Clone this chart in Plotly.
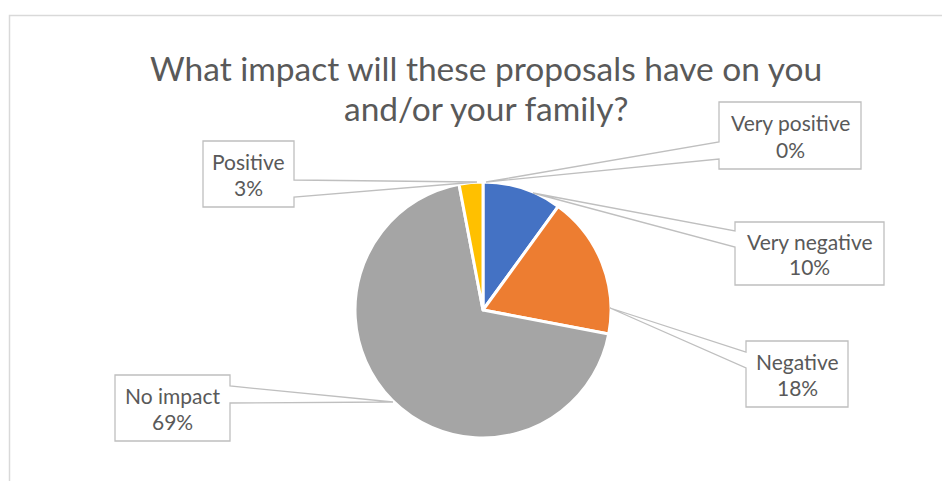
import plotly.graph_objects as go

# Survey responses, in the order drawn clockwise from 12 o'clock
categories = ["Very positive", "Very negative", "Negative", "No impact", "Positive"]
shares = [0, 10, 18, 69, 3]
colors = ["#5B9BD5", "#4472C4", "#ED7D31", "#A5A5A5", "#FFC000"]

W, H = 942, 481
FONT = "Lato"
TEXT_COLOR = "#595959"
LINE_COLOR = "#BFBFBF"

# Pie placement in pixels
cx, cy, r = 483, 310, 128

# Callout boxes: (x0, y0, x1, y1), side the pointer leaves from,
# pointer root y-values on that side, and pointer tip
callouts = {
    "Very positive": ((719, 102, 861, 169), "left", (142, 159), (486, 182)),
    "Very negative": ((735, 222, 884, 285), "left", (231, 247), (533, 193)),
    "Negative": ((746, 341, 848, 407), "left", (352, 368), (610, 308)),
    "No impact": ((115, 375, 230, 441), "right", (386, 403), (393, 402)),
    "Positive": ((203, 141, 294, 207), "right", (180, 197), (477, 182)),
}


def px(x):
    return x / W


def py(y):
    return 1 - y / H


fig = go.Figure(
    go.Pie(
        labels=categories,
        values=shares,
        sort=False,
        direction="clockwise",
        rotation=0,
        marker=dict(colors=colors, line=dict(color="white", width=3)),
        textinfo="none",
        hoverinfo="label+percent",
        showlegend=False,
        domain=dict(x=[px(cx - r), px(cx + r)], y=[py(cy + r), py(cy - r)]),
    )
)

shapes = [
    # outer chart frame
    dict(type="rect", xref="paper", yref="paper",
         x0=px(9.5), x1=px(W + 20), y0=py(H + 20), y1=py(15.5),
         line=dict(color="#D9D9D9", width=1.5), fillcolor="rgba(0,0,0,0)", layer="below"),
]

annotations = []
for name, share in zip(categories, shares):
    (x0, y0, x1, y1), side, (ya, yb), (tx, ty) = callouts[name]
    if side == "left":
        pts = [(x0, y0), (x1, y0), (x1, y1), (x0, y1), (x0, yb), (tx, ty), (x0, ya)]
    else:
        pts = [(x0, y0), (x1, y0), (x1, ya), (tx, ty), (x1, yb), (x1, y1), (x0, y1)]
    path = "M " + " L ".join(f"{px(a):.5f},{py(b):.5f}" for a, b in pts) + " Z"
    shapes.append(dict(type="path", xref="paper", yref="paper", path=path,
                       fillcolor="white", line=dict(color=LINE_COLOR, width=1.3)))
    mx = (x0 + x1) / 2
    h = y1 - y0
    annotations.append(dict(x=px(mx), y=py(y0 + 0.31 * h), xref="paper", yref="paper",
                            text=name, showarrow=False, xanchor="center", yanchor="middle",
                            font=dict(family=FONT, size=21, color=TEXT_COLOR)))
    annotations.append(dict(x=px(mx), y=py(y0 + 0.71 * h), xref="paper", yref="paper",
                            text=f"{share}%", showarrow=False, xanchor="center", yanchor="middle",
                            font=dict(family=FONT, size=21, color=TEXT_COLOR)))

title_lines = ["What impact will these proposals have on you", "and/or your family?"]
for line, yc in zip(title_lines, (68, 108)):
    annotations.append(dict(x=px(486), y=py(yc), xref="paper", yref="paper",
                            text=line, showarrow=False, xanchor="center", yanchor="middle",
                            font=dict(family=FONT, size=33.5, color=TEXT_COLOR)))

fig.update_layout(
    width=W, height=H,
    margin=dict(l=0, r=0, t=0, b=0),
    paper_bgcolor="white",
    plot_bgcolor="white",
    shapes=shapes,
    annotations=annotations,
)

fig.write_html("out.html")
